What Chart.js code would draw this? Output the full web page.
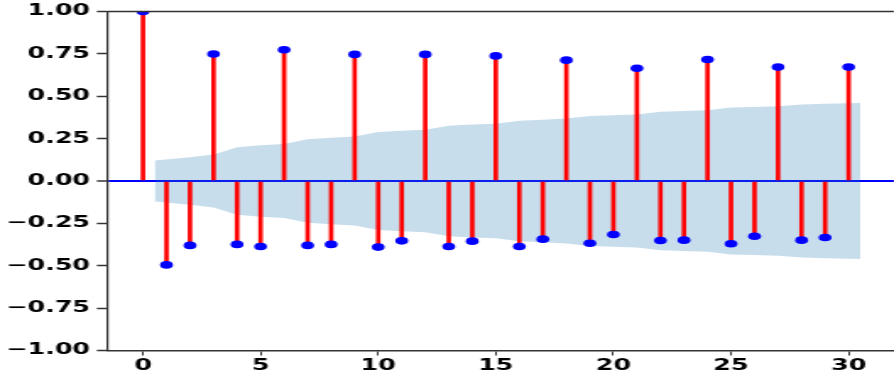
<!DOCTYPE html>
<html>
<head>
<meta charset="utf-8">
<script src="https://cdn.jsdelivr.net/npm/chart.js@4/dist/chart.umd.min.js"></script>
<style>
  html, body { margin: 0; padding: 0; background: #fff; overflow: hidden; }
  /* the reference is stretched sideways, so the whole canvas is too */
  #wrap { width: 533px; height: 378px; transform: scaleX(1.69); transform-origin: 0 0; }
</style>
</head>
<body>
<div id="wrap"><canvas id="acfChart" width="533" height="378"></canvas></div>
<script>
// autocorrelation per lag
const lags = [0, 1, 2, 3, 4, 5, 6, 7, 8, 9, 10, 11, 12, 13, 14, 15,
              16, 17, 18, 19, 20, 21, 22, 23, 24, 25, 26, 27, 28, 29, 30];
const acfValues = [1.00, -0.495, -0.38, 0.749, -0.374, -0.386, 0.774, -0.38, -0.374, 0.747, -0.39,
                   -0.353, 0.747, -0.386, -0.355, 0.738, -0.386, -0.343, 0.713, -0.367, -0.316,
                   0.665, -0.351, -0.349, 0.717, -0.37, -0.326, 0.672, -0.349, -0.333, 0.672];

// confidence band (shaded area)
const bandLags = [0.5, 2, 3, 4, 5, 6, 7, 8, 9, 10, 11, 12, 13, 14, 15,
                  16, 17, 18, 19, 20, 21, 22, 23, 24, 25, 26, 27, 28, 29, 30.5];
const bandUpper = [0.121, 0.14, 0.156, 0.199, 0.211, 0.218, 0.247, 0.255, 0.262, 0.289, 0.296,
                   0.302, 0.326, 0.334, 0.338, 0.355, 0.361, 0.368, 0.384, 0.388, 0.392,
                   0.409, 0.413, 0.417, 0.433, 0.437, 0.441, 0.452, 0.456, 0.46];
const bandLower = [-0.121, -0.14, -0.156, -0.199, -0.211, -0.218, -0.247, -0.255, -0.262, -0.289, -0.296,
                   -0.302, -0.326, -0.334, -0.338, -0.355, -0.361, -0.368, -0.384, -0.388, -0.392,
                   -0.409, -0.413, -0.417, -0.433, -0.437, -0.441, -0.452, -0.456, -0.46];

const xTicks = [0, 5, 10, 15, 20, 25, 30];
const yTicks = [-1, -0.75, -0.5, -0.25, 0, 0.25, 0.5, 0.75, 1];
const xMin = -1.53, xMax = 31.93;

const tickFont = { family: 'DejaVu Sans', size: 15, weight: 'bold', lineHeight: 1 };

const topSpine = {
    id: 'topSpine',
    afterDraw(chart) {
        const { ctx, chartArea } = chart;
        ctx.save();
        ctx.strokeStyle = '#333';
        ctx.lineWidth = 1.5;
        ctx.beginPath();
        ctx.moveTo(chartArea.left, chartArea.top);
        ctx.lineTo(chartArea.right, chartArea.top);
        ctx.stroke();
        ctx.restore();
    }
};

const ctx = document.getElementById('acfChart').getContext('2d');
const chart = new Chart(ctx, {
    data: {
        datasets: [{
            type: 'scatter',
            data: lags.map((l, i) => ({ x: l, y: acfValues[i] })),
            pointRadius: 3.8,
            pointBackgroundColor: '#0000ff',
            pointBorderWidth: 0,
            clip: 0,
            order: 0
        }, {
            type: 'bar',
            data: lags.map((l, i) => ({ x: l, y: acfValues[i] })),
            backgroundColor: '#ff0000',
            barThickness: 2,
            order: 1
        }, {
            type: 'line',
            data: bandLags.map((l, i) => ({ x: l, y: bandUpper[i] })),
            borderWidth: 0,
            pointRadius: 0,
            backgroundColor: 'rgba(31,119,180,0.25)',
            fill: '+1',
            order: 2
        }, {
            type: 'line',
            data: bandLags.map((l, i) => ({ x: l, y: bandLower[i] })),
            borderWidth: 0,
            pointRadius: 0,
            fill: false,
            order: 3
        }]
    },
    options: {
        responsive: false,
        animation: false,
        layout: { padding: { top: 7.5, right: 0, bottom: 0, left: 0 } },
        plugins: { legend: { display: false }, tooltip: { enabled: false } },
        scales: {
            x: {
                type: 'linear',
                min: xMin,
                max: xMax,
                offset: false,
                afterBuildTicks: axis => { axis.ticks = xTicks.map(v => ({ value: v })); },
                afterFit: axis => { axis.height = 27.5; },
                grid: { offset: false, drawOnChartArea: false, tickLength: 5, tickColor: '#333', tickWidth: 1 },
                border: { color: '#333', width: 1.5 },
                ticks: { font: tickFont, color: '#000', padding: 3, maxRotation: 0 }
            },
            y: {
                min: -1,
                max: 1,
                z: 1,
                afterBuildTicks: axis => { axis.ticks = yTicks.map(v => ({ value: v })); },
                afterFit: axis => { axis.width = 63.3; },
                grid: {
                    color: c => (c.tick && c.tick.value === 0 ? '#0000ff' : 'rgba(0,0,0,0)'),
                    lineWidth: c => (c.tick && c.tick.value === 0 ? 2 : 1),
                    tickLength: 6,
                    tickColor: '#333',
                    tickWidth: 1.5
                },
                border: { color: '#333', width: 1.2 },
                ticks: {
                    font: tickFont,
                    color: '#000',
                    padding: 4,
                    callback: v => v.toFixed(2).replace('-', '\u2212')
                }
            }
        }
    },
    plugins: [topSpine]
});
</script>
</body>
</html>
